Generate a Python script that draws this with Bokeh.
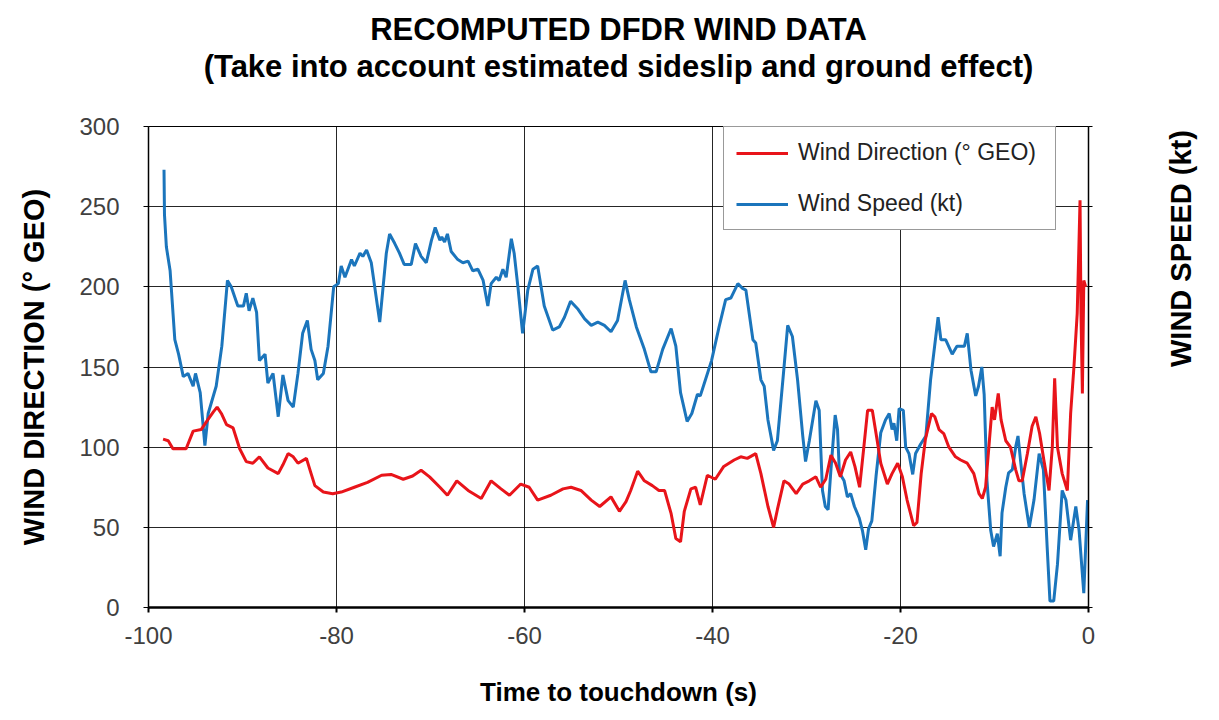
import math
from bokeh.plotting import figure
from bokeh.models import Range1d, LinearAxis, FixedTicker, Title, Legend, LegendItem
from bokeh.embed import file_html
from bokeh.resources import INLINE

# ---- data ----
time_dir = [-98.45, -97.9, -97.4, -96.0, -95.25, -94.4, -93.7, -93.1, -92.7, -92.25, -91.7, -91.0,
            -90.3, -89.6, -88.9, -88.2, -87.3, -86.2, -85.7, -85.15, -84.6, -84.1, -83.2, -82.7,
            -82.3, -81.4, -80.4, -79.5, -78.1, -76.7, -75.2, -74.2, -72.9, -71.9, -71.0, -70.1,
            -69.0, -68.2, -67.2, -66.0, -64.6, -63.55, -62.5, -61.6, -60.4, -59.5, -58.6, -57.2,
            -55.9, -55.05, -54.0, -52.9, -52.0, -50.8, -49.9, -49.2, -48.7, -47.96, -47.25, -46.4,
            -45.7, -45.1, -44.4, -43.9, -43.4, -43.0, -42.3, -41.8, -41.3, -40.55, -39.7, -38.8,
            -37.7, -37.0, -36.3, -35.4, -34.85, -34.1, -33.5, -33.1, -32.4, -31.85, -31.1, -30.4,
            -29.7, -29.0, -28.5, -27.95, -27.4, -26.9, -26.4, -25.85, -25.3, -24.85, -24.35, -23.9,
            -23.5, -23.0, -22.6, -22.1, -21.4, -20.9, -20.3, -19.8, -19.3, -18.6, -18.25, -17.8,
            -17.35, -16.7, -16.35, -15.9, -15.4, -14.85, -14.15, -13.6, -12.9, -12.2, -11.65, -11.3,
            -10.95, -10.6, -10.25, -10.0, -9.6, -9.3, -8.8, -8.3, -7.75, -7.4, -7.05, -6.5,
            -6.0, -5.6, -5.2, -4.75, -4.2, -3.85, -3.6, -3.3, -2.8, -2.25, -1.9, -1.55,
            -1.2, -0.9, -0.8, -0.65, -0.5, -0.3]
wind_dir = [105, 104, 99, 99, 110, 111, 117, 122, 125, 121, 114, 112,
            99, 91, 90, 94, 87, 83.5, 89, 96, 94, 90, 93, 83.5,
            76, 72, 71, 72, 75, 78, 82.5, 83, 80, 82, 85.6, 81.5,
            75, 70, 79, 73, 68, 79, 74, 70, 77, 75, 67, 70,
            74, 75, 73, 67, 63, 69, 60, 66, 73, 85, 79, 76,
            73, 73, 58.5, 43, 41, 60, 74, 75, 64, 82.5, 80, 88,
            92, 94, 93, 96, 83.5, 63, 50, 61, 79, 77, 71, 77,
            79, 81.5, 75, 80, 95, 90, 81.5, 92, 97, 88, 75, 100,
            123, 123, 108.5, 90, 77, 83.5, 90, 81.5, 67, 51, 53, 83.5,
            105, 121, 119, 111, 108.5, 100, 94, 92, 90, 83.5, 71, 68,
            75, 100, 125, 117, 133.5, 117, 104, 100, 86, 79, 79, 96,
            113, 119, 108.5, 92, 73, 100, 143, 100, 83.5, 73, 121, 150,
            183.5, 254, 183, 133.5, 204, 200]

time_spd = [-98.35, -98.3, -98.1, -97.7, -97.2, -96.8, -96.3, -95.8, -95.25, -95.0, -94.5, -94.0,
            -93.65, -92.8, -92.2, -91.6, -91.2, -90.5, -89.9, -89.6, -89.3, -88.9, -88.5, -88.2,
            -87.6, -87.3, -86.75, -86.2, -85.7, -85.15, -84.6, -84.1, -83.6, -83.1, -82.7, -82.3,
            -82.0, -81.4, -80.9, -80.3, -79.8, -79.5, -79.1, -78.4, -78.1, -77.5, -77.2, -76.8,
            -76.3, -75.4, -74.7, -74.35, -73.8, -73.3, -72.8, -72.05, -71.6, -71.0, -70.45, -69.9,
            -69.5, -69.0, -68.8, -68.5, -68.2, -67.8, -67.1, -66.55, -66.0, -65.5, -64.96, -64.4,
            -63.9, -63.55, -63.0, -62.7, -62.3, -61.95, -61.4, -61.1, -60.7, -60.2, -59.65, -59.1,
            -58.6, -57.9, -57.0, -56.3, -55.75, -55.1, -54.3, -53.6, -52.9, -52.2, -51.5, -50.8,
            -50.1, -49.3, -48.85, -48.1, -47.25, -46.55, -46.0, -45.3, -44.4, -43.9, -43.4, -42.7,
            -42.2, -41.6, -41.3, -40.7, -40.1, -39.3, -38.6, -38.05, -37.3, -36.8, -36.45, -35.7,
            -35.4, -34.85, -34.5, -34.1, -33.5, -33.1, -32.45, -32.0, -31.5, -30.95, -30.4, -30.1,
            -29.7, -29.0, -28.65, -28.3, -28.0, -27.7, -27.4, -26.95, -26.7, -26.5, -26.0, -25.65,
            -25.3, -24.9, -24.4, -24.05, -23.7, -23.4, -23.05, -22.6, -22.1, -21.6, -21.2, -20.9,
            -20.7, -20.4, -20.15, -19.7, -19.45, -19.1, -18.7, -18.4, -17.85, -17.3, -16.8, -16.0,
            -15.7, -15.2, -14.5, -14.0, -13.2, -12.9, -12.5, -12.0, -11.7, -11.35, -11.1, -10.8,
            -10.4, -10.1, -9.7, -9.4, -9.2, -8.8, -8.5, -8.1, -7.75, -7.5, -7.2, -6.85,
            -6.3, -5.8, -5.25, -4.8, -4.4, -4.1, -3.7, -3.3, -2.8, -2.4, -1.9, -1.35,
            -1.0, -0.5, -0.3, -0.1]
wind_spd = [273, 245, 225, 210, 167, 158, 144, 146, 138, 146, 134, 101,
            121, 138, 163, 204, 200, 188, 188, 196, 185, 193, 184, 154,
            158, 140, 146, 119, 145, 129, 125, 146, 171, 179, 161, 154,
            142, 146, 163, 200, 202, 213, 206, 217, 213, 221, 219, 223,
            215, 178, 221, 233, 227, 221, 214, 214, 227, 219, 215, 229,
            237, 229, 231, 228, 233, 222, 217, 215, 216, 210, 211, 204,
            188, 202, 206, 204, 211, 206, 230, 221, 200, 171, 198, 211,
            213, 188, 173, 175, 181, 191, 186, 180, 176, 178, 176, 172,
            179, 204, 192, 175, 161, 147, 147, 161, 174, 163, 134, 116,
            121, 133, 132, 143, 154, 175, 192, 193, 202, 199, 198, 167,
            165, 142, 138, 117, 98, 104, 146, 176, 169, 142, 107, 91,
            104, 129, 123, 73, 63, 61, 86, 120, 111, 84, 79, 69,
            71, 63, 56, 48, 36, 49, 54, 82, 109, 117, 121, 111,
            115, 104, 124, 123, 100, 96, 83, 96, 102, 107, 142, 181,
            167, 167, 158, 163, 163, 171, 148, 132, 138, 150, 133, 79,
            48, 38, 46, 32, 59, 75, 84, 86, 100, 107, 90, 71,
            50, 67, 96, 86, 38, 4, 4, 27, 73, 67, 42, 63,
            48, 9, 38, 67]

x_ticks = [-100, -80, -60, -40, -20, 0]
x_tick_labels = ["-100", "-80", "-60", "-40", "-20", "0"]
y_ticks = [0, 50, 100, 150, 200, 250, 300]

RED = "#e8141a"
BLUE = "#1b75bc"
FONT = "Liberation Sans"

p = figure(width=1219, height=720, x_range=Range1d(-100, 0), y_range=Range1d(0, 300),
           output_backend="svg", toolbar_location=None,
           min_border_left=148, min_border_right=131, min_border_top=126, min_border_bottom=113,
           background_fill_color="white", border_fill_color="white")

p.outline_line_color = "black"
p.outline_line_width = 1

# axes
for ax in (p.xaxis[0], p.yaxis[0]):
    ax.major_tick_in = 0
    ax.major_tick_out = 5
    ax.minor_tick_in = 0
    ax.minor_tick_out = 0
    ax.axis_line_color = "black"
    ax.major_tick_line_color = "black"
    ax.major_label_text_font = FONT
    ax.major_label_text_font_size = "24px"
    ax.major_label_text_color = "#404040"
    ax.axis_label_text_font = FONT
    ax.axis_label_text_font_style = "bold"
    ax.axis_label_text_color = "black"

p.xaxis.ticker = FixedTicker(ticks=x_ticks)
p.xaxis.major_label_overrides = dict(zip(x_ticks, x_tick_labels))
p.yaxis.ticker = FixedTicker(ticks=y_ticks)
p.xaxis.axis_line_width = 2.5
p.xaxis.major_tick_line_width = 2
p.yaxis.axis_line_width = 1.5
p.xaxis.axis_label = "Time to touchdown (s)"
p.xaxis.axis_label_text_font_size = "26px"
p.xaxis.major_label_standoff = 14
p.xaxis.axis_label_standoff = 30
p.yaxis.axis_label = "WIND DIRECTION (° GEO)"
p.yaxis.axis_label_text_font_size = "29px"
p.yaxis.major_label_standoff = 24
p.yaxis.axis_label_standoff = 26

ra = LinearAxis(ticker=FixedTicker(ticks=y_ticks), axis_label="WIND SPEED (kt)",
                major_label_overrides={t: "" for t in y_ticks},
                major_tick_in=0, major_tick_out=4, minor_tick_in=0, minor_tick_out=0,
                axis_line_color="black", axis_line_width=1.5,
                axis_label_text_font=FONT, axis_label_text_font_style="bold",
                axis_label_text_font_size="29px", axis_label_text_color="black",
                axis_label_text_baseline="top",
                axis_label_standoff=88, axis_label_orientation=math.pi / 2)
p.add_layout(ra, "right")

# grid
p.xgrid.ticker = FixedTicker(ticks=x_ticks)
p.ygrid.ticker = FixedTicker(ticks=y_ticks)
for g in (p.xgrid[0], p.ygrid[0]):
    g.grid_line_color = "black"
    g.grid_line_alpha = 0.85
    g.grid_line_width = 1

# titles: an empty spacer nearest the frame, then the subtitle, then the main title
p.add_layout(Title(text=" ", text_font=FONT, text_font_size="31px", standoff=6), "above")
p.add_layout(Title(text="(Take into account estimated sideslip and ground effect)", align="center",
                   text_font=FONT, text_font_style="bold", text_font_size="31px",
                   text_color="black", standoff=0), "above")
p.add_layout(Title(text="RECOMPUTED DFDR WIND DATA", align="center",
                   text_font=FONT, text_font_style="bold", text_font_size="31px",
                   text_color="black", standoff=0), "above")

# lines
r_spd = p.line(time_spd, wind_spd, line_color=BLUE, line_width=3)
r_dir = p.line(time_dir, wind_dir, line_color=RED, line_width=3)

legend = Legend(items=[LegendItem(label="Wind Direction (° GEO)", renderers=[r_dir]),
                       LegendItem(label="Wind Speed (kt)", renderers=[r_spd])],
                location=(575, 377), orientation="vertical",
                border_line_color="#333333", border_line_width=1,
                background_fill_color="white", background_fill_alpha=1,
                label_text_font=FONT, label_text_font_size="23px", label_text_color="#222222",
                glyph_width=52, glyph_height=26, label_height=26, label_width=245, spacing=24,
                padding=12, margin=0, label_standoff=10)
p.add_layout(legend)

open("out.html", "w").write(file_html(p, INLINE))
